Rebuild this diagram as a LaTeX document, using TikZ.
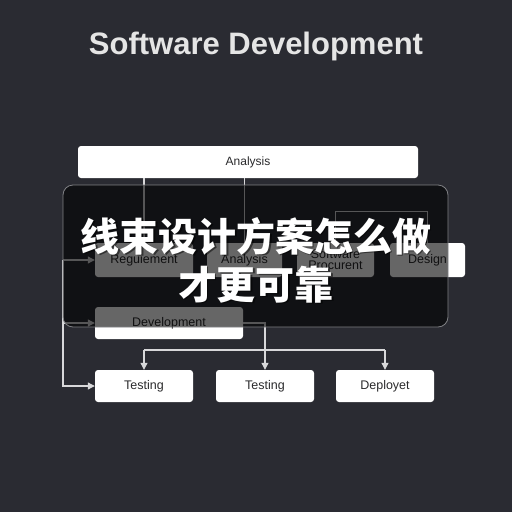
\documentclass[tikz,border=0pt]{standalone}
\usepackage{fontspec}
\setmainfont{Liberation Sans}
\newfontfamily\cjk{Noto Sans CJK SC}
\usetikzlibrary{arrows.meta}
\definecolor{bg}{HTML}{2A2B32}
\definecolor{line}{HTML}{D8D8DA}
\definecolor{boxtext}{HTML}{2A2A2C}

\begin{document}
\begin{tikzpicture}
  [x=1pt,y=-1pt,
   box/.style={fill=white,rounded corners=3pt,text=boxtext,inner sep=0pt,
     font=\fontsize{12.5}{13}\selectfont,minimum height=32pt,align=center},
   link/.style={draw=line,line width=1.1pt},
   arr/.style={link,-{Triangle[length=7pt,width=7pt]}}]

  % background
  \fill[bg] (0,0) rectangle (512,512);
  \useasboundingbox (0,0) rectangle (512,512);

  \node [text=white!90!black,font=\fontsize{31}{34}\selectfont\bfseries] (title) at (256,46) {Software Development};

  \node [box,minimum width=340pt,font=\fontsize{12}{13}\selectfont] (ana) at (248,162) {Analysis};

  \node [box,minimum width=98pt,minimum height=34pt] (req) at (144,260) {Reguiement};
  \node [box,minimum width=75pt,minimum height=34pt] (ana2) at (244.5,260) {Analysis};
  \node [box,minimum width=77pt,minimum height=34pt] (soft) at (335.5,260) {Software\\[-2pt]Procurent};
  \node [box,minimum width=75pt,minimum height=34pt] (des) at (427.5,260) {Design};

  \node [box,minimum width=148pt] (dev) at (169,323) {Development};

  \node [box,minimum width=98pt] (test1) at (144,386) {Testing};
  \node [box,minimum width=98pt] (test2) at (265,386) {Testing};
  \node [box,minimum width=98pt] (depl) at (385,386) {Deployet};

  % connectors
  \draw [link] (req.north |- ana.south) -- (req.north);
  \draw [link] (ana2.north |- ana.south) -- (ana2.north);
  \draw [link] (soft.north) -- ++(0,-31) -| (des.north);

  \coordinate (b1) at (63,260);
  \coordinate (b2) at (63,323);
  \draw [arr] (b1) -- (req.west);
  \draw [arr] (b2) -- (dev.west);
  \draw [arr] (b1) |- (test1.west);

  \draw [arr] (dev.east) -| (test2.north);

  \coordinate (s1) at (144,350);
  \coordinate (s2) at (385,350);
  \draw [link] (s1) -- (s2);
  \draw [arr] (s1) -- (test1.north);
  \draw [arr] (s2) -- (depl.north);

  % overlay
  \fill [black,opacity=0.6,rounded corners=10pt] (63,185) rectangle (448,327);
  \draw [white!40!bg,line width=0.8pt,rounded corners=10pt] (63,185) rectangle (448,327);

  \node [text=black,opacity=0.5,font=\cjk\fontsize{39}{48}\selectfont\bfseries,align=center] (shadow) at (257.5,261.5) {线束设计方案怎么做\\才更可靠};
  \node [text=white,font=\cjk\fontsize{39}{48}\selectfont\bfseries,align=center] (head) at (256,260) {线束设计方案怎么做\\才更可靠};
\end{tikzpicture}
\end{document}
